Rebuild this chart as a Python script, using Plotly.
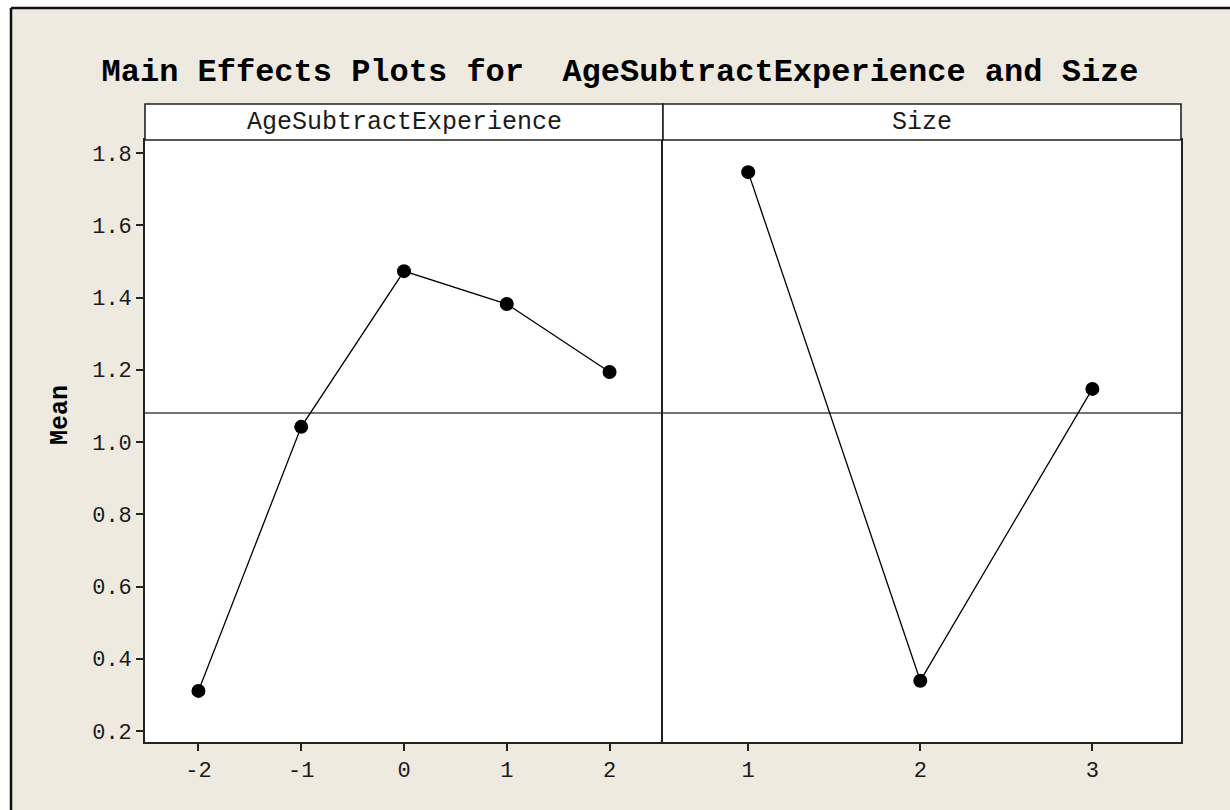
import plotly.graph_objects as go

# Factor levels and their mean responses
age_levels = [-2, -1, 0, 1, 2]
age_means = [0.311, 1.042, 1.473, 1.382, 1.194]

size_levels = [1, 2, 3]
size_means = [1.747, 0.339, 1.147]

grand_mean = 1.080

age_tick_text = ["-2", "-1", "0", "1", "2"]
size_tick_text = ["1", "2", "3"]
y_ticks = [0.2, 0.4, 0.6, 0.8, 1.0, 1.2, 1.4, 1.6, 1.8]

panel_names = ["AgeSubtractExperience", "Size"]

W, H = 1230, 810
ML, MR, MT, MB = 145, 49, 104, 68
plot_w = W - ML - MR
plot_h = H - MT - MB
strip_h = 36
y_top = (plot_h - strip_h) / plot_h

def px_x(p):
    return (p - ML) / plot_w

def px_y(p):
    return (H - MB - p) / plot_h

mono = "Liberation Mono"
ink = "#1a1a1a"
beige = "#EEEAE0"

fig = go.Figure()

fig.add_trace(go.Scatter(
    x=age_levels, y=age_means, mode="lines+markers",
    line=dict(color="black", width=1.3),
    marker=dict(color="black", size=14),
    xaxis="x", yaxis="y", showlegend=False,
))
fig.add_trace(go.Scatter(
    x=size_levels, y=size_means, mode="lines+markers",
    line=dict(color="black", width=1.3),
    marker=dict(color="black", size=14),
    xaxis="x2", yaxis="y2", showlegend=False,
))

axis_common = dict(
    showline=True, linecolor="#222", linewidth=1.6,
    ticks="outside", ticklen=7, tickwidth=2, tickcolor="#222",
    showgrid=False, zeroline=False,
    tickfont=dict(family=mono, size=22, color=ink),
)
y_range = [0.1696, 1.836]

fig.update_layout(
    width=W, height=H,
    margin=dict(l=ML, r=MR, t=MT, b=MB),
    paper_bgcolor=beige,
    plot_bgcolor="white",
    xaxis=dict(domain=[0, 0.5], range=[-2.52, 2.52], mirror=True,
               tickvals=age_levels, ticktext=age_tick_text, **axis_common),
    xaxis2=dict(domain=[0.5, 1], range=[0.505, 3.515], mirror=True,
                tickvals=size_levels, ticktext=size_tick_text, **axis_common),
    # left panel: only its own left edge; the shared divider comes from y2
    yaxis=dict(domain=[0, y_top], range=y_range, anchor="x", mirror=False,
               tickvals=y_ticks, tickformat=".1f", **axis_common),
    yaxis2=dict(domain=[0, y_top], range=y_range, anchor="x2", mirror=True,
                showticklabels=False,
                **{k: v for k, v in axis_common.items() if k != "ticks"},
                ticks=""),
    title=dict(
        text="<b>Main Effects Plots for  AgeSubtractExperience and Size</b>",
        x=620 / W, xanchor="center", y=1 - 70 / H, yanchor="middle",
        font=dict(family=mono, size=32, color="black"),
    ),
)

# White page margin outside the window's top and left frame edges
fig.add_shape(type="rect", xref="paper", yref="paper", layer="below",
              x0=px_x(-5), x1=px_x(10), y0=px_y(820), y1=px_y(-5),
              fillcolor="white", line=dict(width=0))
fig.add_shape(type="rect", xref="paper", yref="paper", layer="below",
              x0=px_x(-5), x1=px_x(1240), y0=px_y(7), y1=px_y(-5),
              fillcolor="white", line=dict(width=0))
# Dark frame lines
fig.add_shape(type="line", xref="paper", yref="paper",
              x0=px_x(11), x1=px_x(1240), y0=px_y(8), y1=px_y(8),
              line=dict(color="#111", width=2.5))
fig.add_shape(type="line", xref="paper", yref="paper",
              x0=px_x(11), x1=px_x(11), y0=px_y(8), y1=px_y(820),
              line=dict(color="#111", width=2.5))

# Grand-mean reference line in each panel
for dom in ("x domain", "x2 domain"):
    fig.add_shape(type="line", xref=dom, yref="y", x0=0, x1=1,
                  y0=grand_mean, y1=grand_mean,
                  line=dict(color="#444", width=1.5), layer="below")

# Panel header strips
for i, name in enumerate(panel_names):
    x0, x1 = i * 0.5, (i + 1) * 0.5
    fig.add_shape(type="rect", xref="paper", yref="paper",
                  x0=x0, x1=x1, y0=y_top, y1=1,
                  fillcolor="white", line=dict(color="#222", width=1.6))
    fig.add_annotation(text=name, xref="paper", yref="paper",
                       x=(x0 + x1) / 2, y=(y_top + 1) / 2,
                       showarrow=False, xanchor="center", yanchor="middle",
                       font=dict(family=mono, size=25, color=ink))

fig.add_annotation(text="<b>Mean</b>", xref="paper", yref="paper",
                   x=px_x(60), y=px_y(415), textangle=-90,
                   showarrow=False, xanchor="center", yanchor="middle",
                   font=dict(family=mono, size=25, color="black"))

fig.write_html("out.html")
